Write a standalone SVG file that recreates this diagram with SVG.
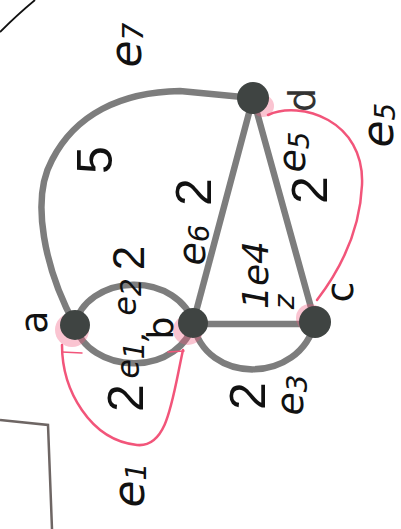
<svg xmlns="http://www.w3.org/2000/svg" width="401" height="529" viewBox="0 0 401 529">
<style>
.edge{fill:none;stroke:#7d7d7d;stroke-width:6.5;stroke-linecap:round}
.pink{fill:none;stroke:#f2557a;stroke-width:2.5;stroke-linecap:round}
.node{fill:#3f4442}
.halo{fill:#f2557a;opacity:0.35}
.num{font-family:"Liberation Sans",Arial,sans-serif;font-size:50px;fill:#111;text-anchor:middle;dominant-baseline:central}
.hw{font-family:"DejaVu Sans","Liberation Sans",sans-serif;font-style:italic;font-size:44px;fill:#111;text-anchor:middle;dominant-baseline:central}
.sub{font-size:28px}
</style>
<rect width="401" height="529" fill="#fff"/>
<path d="M0,32 Q18,14 35,0" fill="none" stroke="#111" stroke-width="1.8"/>
<path d="M0,420 L48,425 L52,529" fill="none" stroke="#6e6664" stroke-width="2.5"/>
<g id="connectors">
<path class="edge" d="M75,325 C45,270 30,200 52,160 C75,115 120,92 180,91 L253,98"/>
<path class="edge" d="M75,325 A60,48 0 0 1 193,323"/>
<path class="edge" d="M75,325 A60,48 0 0 0 193,323"/>
<path class="edge" d="M193,323 L253,98"/>
<path class="edge" d="M253,98 L315,322"/>
<path class="edge" d="M193,324 L315,324"/>
<path class="edge" d="M193,323 C205,385 300,385 315,322"/>
<path class="pink" d="M268,115 C300,100 365,120 362,185 C360,230 340,270 317,300"/>
<path class="pink" d="M62,345 C62,390 90,440 137,445 C168,448 172,400 183,350"/>
<path class="pink" d="M62,352 L82,353" style="stroke-width:1.5"/>
<path class="pink" d="M168,352 L184,351" style="stroke-width:1.5"/>
</g>
<g id="node-a"><circle class="halo" cx="72" cy="330" r="17"/><circle class="node" cx="75" cy="325" r="15"/></g>
<g id="node-b"><circle class="halo" cx="188" cy="330" r="15"/><circle class="node" cx="193" cy="323" r="15"/></g>
<g id="node-c"><circle class="halo" cx="310" cy="318" r="14"/><circle class="node" cx="315" cy="322" r="16"/></g>
<g id="node-d"><circle class="halo" cx="263" cy="106" r="11"/><circle class="node" cx="253" cy="98" r="16"/></g>
<g id="labels">
<text class="hw" transform="translate(125,45) rotate(-90)">e<tspan class="sub" dy="8">7</tspan></text>
<text class="num" transform="translate(95,160) rotate(-90)">5</text>
<text class="num" transform="translate(194,192) rotate(-90)">2</text>
<text class="hw" transform="translate(192,245) rotate(-90)" style="font-size:38px">e<tspan class="sub" dy="7">6</tspan></text>
<text class="hw" transform="translate(302,100) rotate(-90)" style="fill:#333;font-style:normal;font-size:38px">d</text>
<text class="hw" transform="translate(292,152) rotate(-90)" style="font-size:38px">e<tspan class="sub" dy="7">5</tspan></text>
<text class="num" transform="translate(310,190) rotate(-90)">2</text>
<text class="hw" transform="translate(377,125) rotate(-90)">e<tspan class="sub" dy="8">5</tspan></text>
<text class="hw" transform="translate(255,275) rotate(-90)" style="font-size:36px">1e4</text>
<text class="hw" transform="translate(284,302) rotate(-90)" style="font-size:28px">z</text>
<text class="hw" transform="translate(340,292) rotate(-90)" style="font-style:normal;font-size:38px">c</text>
<text class="hw" transform="translate(34,322) rotate(-90)" style="font-style:normal;font-size:38px">a</text>
<text class="num" transform="translate(128,258) rotate(-90)" style="font-size:44px">2</text>
<text class="hw" transform="translate(125,297) rotate(-90)" style="font-size:32px">e<tspan class="sub" dy="6">2</tspan></text>
<text class="hw" transform="translate(160,328) rotate(-90)" style="font-style:normal;font-size:36px">b</text>
<text class="hw" transform="translate(128,355) rotate(-90)" style="font-size:32px">e<tspan class="sub" dy="6">1</tspan>,</text>
<text class="num" transform="translate(126,398) rotate(-90)">2</text>
<text class="num" transform="translate(248,396) rotate(-90)">2</text>
<text class="hw" transform="translate(290,395) rotate(-90)" style="font-size:38px">e<tspan class="sub" dy="7">3</tspan></text>
<text class="hw" transform="translate(128,485) rotate(-90)">e<tspan class="sub" dy="8">1</tspan></text>
</g>
</svg>
